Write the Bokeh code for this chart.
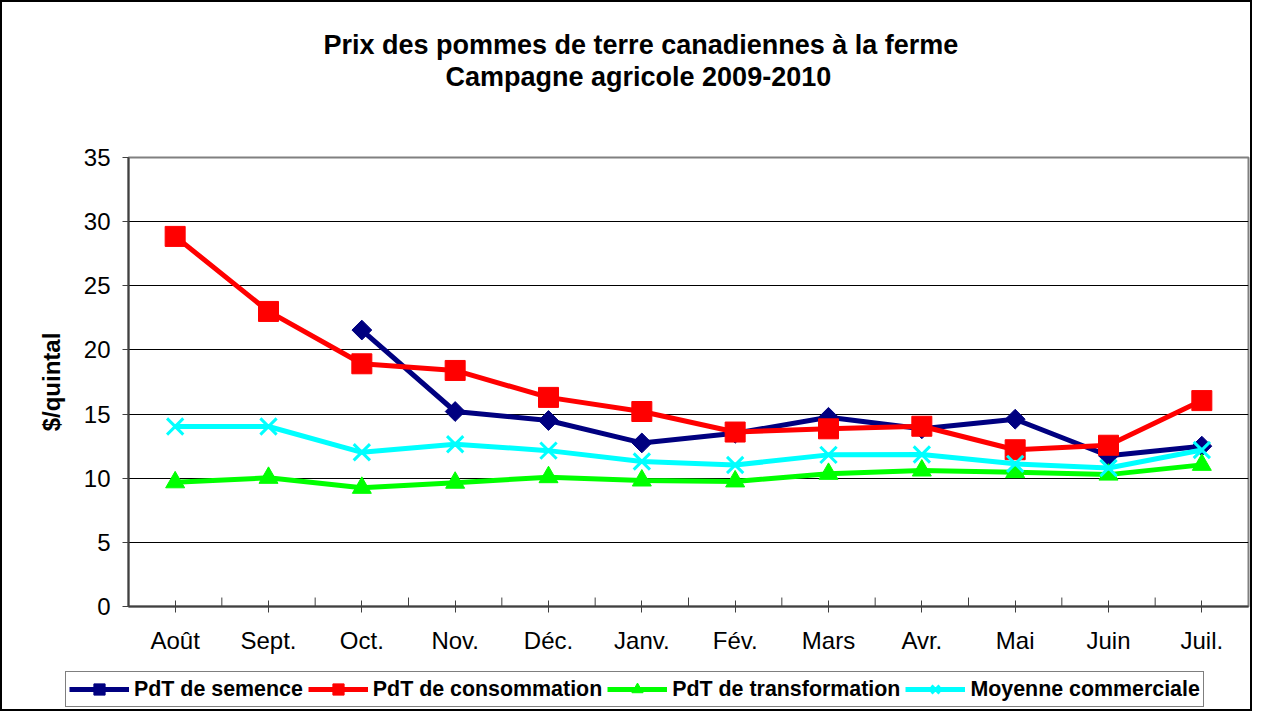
import math
from bokeh.plotting import figure
from bokeh.layouts import column
from bokeh.models import (ColumnDataSource, FactorRange, Range1d, FixedTicker,
                          Legend, LegendItem, Title)
from bokeh.transform import dodge
from bokeh.embed import file_html
from bokeh.resources import INLINE

nan = float("nan")

months = ["Août", "Sept.", "Oct.", "Nov.", "Déc.", "Janv.", "Fév.", "Mars",
          "Avr.", "Mai", "Juin", "Juil."]
semence = [nan, nan, 21.55, 15.2, 14.5, 12.75, 13.5, 14.75, 13.85, 14.6, 11.75, 12.5]
consommation = [28.85, 23.0, 18.92, 18.4, 16.3, 15.2, 13.6, 13.85, 14.05, 12.22, 12.57, 16.05]
transformation = [9.68, 10.03, 9.25, 9.65, 10.08, 9.82, 9.75, 10.34, 10.6, 10.47, 10.28, 11.04]
moyenne = [14.03, 14.03, 12.02, 12.65, 12.15, 11.3, 11.03, 11.82, 11.85, 11.12, 10.8, 12.2]
y_ticks = [0, 5, 10, 15, 20, 25, 30, 35]

series_names = ["PdT de semence", "PdT de consommation",
                "PdT de transformation", "Moyenne commerciale"]
title1 = "Prix des pommes de terre canadiennes à la ferme"
title2 = "Campagne agricole 2009-2010"
y_label = "$/quintal"

FONT = "Liberation Sans"
NAVY, RED, GREEN, CYAN = "#000080", "#FF0000", "#00FF00", "#00FFFF"

src = ColumnDataSource(dict(m=months, sem=semence, con=consommation,
                            tra=transformation, moy=moyenne))
bsrc = ColumnDataSource(dict(m=months[:-1], y0=[0] * (len(months) - 1),
                             y1=[0.7] * (len(months) - 1)))

p = figure(width=1248, height=656, x_range=FactorRange(*months),
           y_range=Range1d(0, 35), output_backend="svg", toolbar_location=None,
           min_border_left=126, min_border_right=2, min_border_top=155,
           min_border_bottom=52)
p.title.visible = False
p.background_fill_color = "white"
p.border_fill_color = "white"
p.outline_line_color = "#808080"
p.outline_line_width = 2

# titles: spacer nearest the frame, then line 2, then line 1
p.add_layout(Title(text=" ", standoff=53, text_font=FONT,
                   text_font_size="10px"), "above")
p.add_layout(Title(text=title2, align="left", offset=317, standoff=0,
                   text_font=FONT, text_font_style="bold",
                   text_font_size="27px", text_color="black"), "above")
p.add_layout(Title(text=title1, align="left", offset=195, standoff=0,
                   text_font=FONT, text_font_style="bold",
                   text_font_size="27px", text_color="black"), "above")

# grid
p.xgrid.grid_line_color = None
p.ygrid.grid_line_color = "#000000"
p.ygrid.grid_line_width = 1
p.ygrid.ticker = FixedTicker(ticks=y_ticks)

# y axis
p.yaxis.ticker = FixedTicker(ticks=y_ticks)
p.yaxis.axis_label = y_label
p.yaxis.axis_label_text_font = FONT
p.yaxis.axis_label_text_font_style = "bold"
p.yaxis.axis_label_text_font_size = "24px"
p.yaxis.axis_label_text_color = "black"
p.yaxis.axis_label_standoff = 16
p.yaxis.major_label_text_font = FONT
p.yaxis.major_label_text_font_size = "24px"
p.yaxis.major_label_text_color = "black"
p.yaxis.major_label_standoff = 12
p.yaxis.major_tick_in = 0
p.yaxis.major_tick_out = 6
p.yaxis.minor_tick_line_color = None
p.yaxis.axis_line_color = "#404040"
p.yaxis.axis_line_width = 2
p.yaxis.major_tick_line_color = "#404040"

# x axis
p.xaxis.major_label_text_font = FONT
p.xaxis.major_label_text_font_size = "24px"
p.xaxis.major_label_text_color = "black"
p.xaxis.major_label_standoff = 14
p.xaxis.major_tick_in = 6
p.xaxis.major_tick_out = 6
p.xaxis.axis_line_color = "#404040"
p.xaxis.axis_line_width = 2
p.xaxis.major_tick_line_color = "#404040"

# category boundary ticks
p.segment(x0=dodge("m", 0.5, range=p.x_range), x1=dodge("m", 0.5, range=p.x_range),
          y0="y0", y1="y1", source=bsrc, line_color="#404040", line_width=1)


def draw(fig, source, xcol, ycol, color, marker, size, angle=0.0):
    ln = fig.line(xcol, ycol, source=source, line_color=color, line_width=5)
    if marker == "x":
        sc = fig.scatter(xcol, ycol, source=source, marker="x", size=size,
                         line_color=color, line_width=3)
    else:
        sc = fig.scatter(xcol, ycol, source=source, marker=marker, size=size,
                         angle=angle, fill_color=color, line_color=color)
    return [ln, sc]


cols = ["sem", "con", "tra", "moy"]
styles = [(NAVY, "square", 14, math.pi / 4), (RED, "square", 20, 0.0),
          (GREEN, "triangle", 19, 0.0), (CYAN, "x", 23, 0.0)]
for col, (c, mk, sz, ang) in zip(cols, styles):
    draw(p, src, "m", col, c, mk, sz, ang)

# legend strip below the chart: same series, kept out of its (empty) view
pl = figure(frame_width=1248, frame_height=51, x_range=FactorRange(*months),
            y_range=Range1d(100, 101), output_backend="svg",
            toolbar_location=None, min_border=0,
            x_axis_type=None, y_axis_type=None)
if "frame_align" in pl.properties():
    pl.frame_align = False
pl.title.visible = False
pl.outline_line_color = None
pl.background_fill_color = "white"
pl.border_fill_color = "white"
pl.xgrid.visible = False
pl.ygrid.visible = False
items = []
for name, col, (c, mk, sz, ang) in zip(series_names, cols, styles):
    items.append(LegendItem(label=name,
                            renderers=draw(pl, src, "m", col, c, mk, sz, ang)))

legend = Legend(items=items, orientation="horizontal", location=(63, 2))
legend.label_text_font = FONT
legend.label_text_font_style = "bold"
legend.label_text_font_size = "21.4px"
legend.label_text_color = "black"
legend.glyph_width = 60
legend.glyph_height = 28
legend.label_height = 28
legend.label_standoff = 5
legend.spacing = 5
legend.padding = 3
legend.margin = 0
legend.border_line_color = "black"
legend.border_line_width = 1.5
legend.background_fill_color = "white"
legend.background_fill_alpha = 1
pl.add_layout(legend, "center")

layout = column(p, pl, spacing=0, styles={"border": "2px solid black"})
open("out.html", "w").write(file_html(layout, INLINE))
